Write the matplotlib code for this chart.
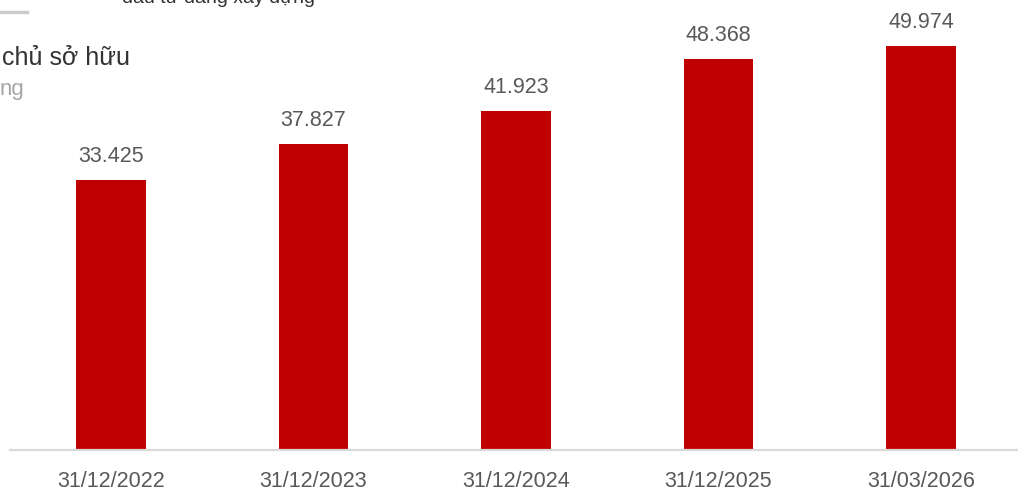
import matplotlib
matplotlib.use("Agg")
import matplotlib.pyplot as plt
from matplotlib.lines import Line2D

# data
dates = ["31/12/2022", "31/12/2023", "31/12/2024", "31/12/2025", "31/03/2026"]
equity = [33.425, 37.827, 41.923, 48.368, 49.974]
value_labels = ["33.425", "37.827", "41.923", "48.368", "49.974"]

plt.rcParams['font.family'] = ['Liberation Sans', 'DejaVu Sans']

W, H = 1018, 491
fig = plt.figure(figsize=(W / 100, H / 100), dpi=100)

# axes placed in pixel terms: baseline at y=450, first slot starts at x~10
ax = fig.add_axes([9.75 / W, (H - 450) / H, 1012.5 / W, 450 / H])
x = list(range(len(dates)))
ax.bar(x, equity, width=0.345, color="#C00000")
ax.set_xlim(-0.5, 4.5)
ax.set_ylim(0, 450 / 8.08)

for xi, v, lab in zip(x, equity, value_labels):
    ax.annotate(lab, (xi, v), xytext=(0, 13), textcoords="offset pixels",
                ha="center", va="bottom", fontsize=15.5, color="#595959")

ax.set_xticks(x)
ax.set_xticklabels(dates, fontsize=15.5, color="#595959")
ax.tick_params(axis="x", length=0, pad=15)
ax.set_yticks([])
for s in ["top", "right", "left"]:
    ax.spines[s].set_visible(False)
ax.spines["bottom"].set_color("#d9d9d9")
ax.spines["bottom"].set_linewidth(1.6)
ax.patch.set_visible(False)

# clipped header pieces at top-left of the screenshot
fig.text(122 / W, (H - 3) / H, "đầu tư đang xây dựng", fontsize=14,
         color="#333333", ha="left", va="baseline")
fig.add_artist(Line2D([0, 27 / W], [(H - 12) / H, (H - 12) / H],
                      color="#cccccc", linewidth=2.5, transform=fig.transFigure))
fig.text(2 / W, (H - 58) / H, "chủ sở hữu", fontsize=18, color="#333333",
         ha="left", va="center")
fig.text(0, (H - 89) / H, "ng", fontsize=16, color="#a6a6a6",
         ha="left", va="center")

fig.savefig("out.png", dpi=100)
